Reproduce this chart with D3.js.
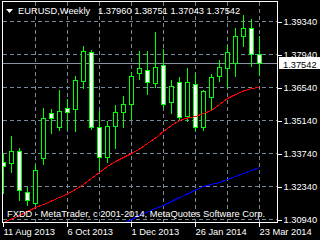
<!DOCTYPE html>
<html><head><meta charset="utf-8">
<script src="https://cdn.jsdelivr.net/npm/d3@7"></script>
<style>
html,body{margin:0;padding:0;background:#000;overflow:hidden}
svg{display:block}
text{font-family:"Liberation Sans",Arial,sans-serif;font-size:9.3px}
</style></head><body>
<svg id="c" width="320" height="240"></svg>
<script>
const dates = ["2013-08-11","2013-08-18","2013-08-25","2013-09-01","2013-09-08","2013-09-15","2013-09-22","2013-09-29",
  "2013-10-06","2013-10-13","2013-10-20","2013-10-27","2013-11-03","2013-11-10","2013-11-17","2013-11-24",
  "2013-12-01","2013-12-08","2013-12-15","2013-12-22","2013-12-29","2014-01-05","2014-01-12","2014-01-19",
  "2014-01-26","2014-02-02","2014-02-09","2014-02-16","2014-02-23","2014-03-02","2014-03-09","2014-03-16","2014-03-23"];
const opens  = [1.33358,1.33316,1.33825,1.32086,1.31619,1.33528,1.35437,1.34843,1.35649,1.35607,1.36795,1.38025,1.34843,1.33570,1.34885,1.35479,
  1.35819,1.37134,1.37261,1.36710,1.37473,1.35904,1.36752,1.35310,1.36667,1.34843,1.36116,1.37007,1.37346,1.37560,1.38704,1.39043,1.37960];
const highs  = [1.33782,1.34504,1.33994,1.32340,1.33273,1.35692,1.35649,1.36455,1.36073,1.37049,1.38322,1.38152,1.35564,1.35140,1.35819,1.36201,
  1.37219,1.38110,1.38110,1.38916,1.38195,1.36879,1.37007,1.37389,1.37176,1.36455,1.37134,1.37728,1.38364,1.39086,1.39637,1.39467,1.38751];
const lows   = [1.32043,1.32934,1.31746,1.31534,1.31576,1.33273,1.34588,1.34716,1.34758,1.34673,1.36498,1.34758,1.33019,1.33358,1.33952,1.34843,
  1.35182,1.36879,1.36243,1.36540,1.35692,1.35437,1.35140,1.35098,1.34716,1.34716,1.35564,1.36795,1.36540,1.37007,1.38279,1.37431,1.37043];
const closes = [1.33189,1.33825,1.32170,1.31746,1.33019,1.35225,1.35225,1.35522,1.35479,1.36837,1.38067,1.34843,1.33570,1.34885,1.35479,1.35819,
  1.37007,1.37346,1.36752,1.37389,1.35819,1.36582,1.35267,1.36752,1.34843,1.36370,1.36964,1.37389,1.38025,1.38704,1.39043,1.37940,1.37542];
const maRed  = [1.30813,1.30961,1.31110,1.31279,1.31449,1.31576,1.31725,1.31873,1.32022,1.32213,1.32425,1.32679,1.32934,1.33189,1.33401,1.33570,
  1.33740,1.33931,1.34164,1.34398,1.34673,1.34928,1.35140,1.35246,1.35310,1.35437,1.35564,1.35819,1.36073,1.36243,1.36392,1.36498,1.36540];
const maBlue = [null,null,null,null,null,null,null,null,null,null,null,null,null,null,null,1.30770,
  1.30940,1.31110,1.31258,1.31407,1.31534,1.31704,1.31873,1.32022,1.32192,1.32340,1.32425,1.32510,1.32637,1.32764,1.32891,1.33019,1.33146];
const priceTicks = [1.3934,1.3794,1.3654,1.3514,1.3374,1.3234,1.3094];
const dateTickIdx = [0,8,16,24,32];
const dateTickLabels = ["11 Aug 2013","6 Oct 2013","1 Dec 2013","26 Jan 2014","23 Mar 2014"];
const symbolTitle = "EURUSD,Weekly";
const footerText = "FXDD - MetaTrader, c 2001-2014, MetaQuotes Software Corp.";

const svg = d3.select("#c");
const last = dates.length - 1;
const x = d3.scaleLinear().domain([0, last]).range([3.5, 259.5]);
const y = d3.scaleLinear().domain([1.3094, 1.3934]).range([219.5, 21.5]);
const px = i => Math.round(x(i) - 0.5) + 0.5;
const py = v => Math.round(y(v) - 0.5) + 0.5;
const fmt = d3.format(".5f");
const FS = 9.3;

svg.append("rect").attr("width", 320).attr("height", 240).attr("fill", "#000");
svg.append("clipPath").attr("id", "pc").append("rect").attr("x", 3).attr("y", 2).attr("width", 274).attr("height", 220);

const grid = svg.append("g").attr("shape-rendering", "crispEdges").attr("stroke", "#778899").attr("stroke-dasharray", "4,3");
grid.selectAll("line.h").data(priceTicks).join("line").attr("class", "h")
  .attr("x1", 3).attr("x2", 277).attr("y1", d => py(d)).attr("y2", d => py(d));
grid.selectAll("line.v").data(d3.range(4, last + 1, 4)).join("line").attr("class", "v")
  .attr("x1", d => px(d)).attr("x2", d => px(d)).attr("y1", 2).attr("y2", 222);

// bid line
svg.append("line").attr("shape-rendering", "crispEdges").attr("stroke", "#8a96a4")
  .attr("x1", 3).attr("x2", 277).attr("y1", py(closes[last])).attr("y2", py(closes[last]));

const plot = svg.append("g").attr("clip-path", "url(#pc)").attr("shape-rendering", "crispEdges");
const idx = d3.range(dates.length);
plot.selectAll("line.w").data(idx).join("line").attr("class", "w")
  .attr("x1", i => px(i)).attr("x2", i => px(i))
  .attr("y1", i => py(highs[i])).attr("y2", i => py(lows[i]))
  .attr("stroke", "#00ff00");
plot.selectAll("rect.b").data(idx).join("rect").attr("class", "b")
  .attr("x", i => px(i) - 2).attr("width", 4)
  .attr("y", i => py(Math.max(opens[i], closes[i])))
  .attr("height", i => Math.max(1, py(Math.min(opens[i], closes[i])) - py(Math.max(opens[i], closes[i]))))
  .attr("fill", i => closes[i] < opens[i] ? "#fff" : "#000")
  .attr("stroke", "#00ff00");

const line = d3.line().defined(d => d != null).x((d, i) => x(i)).y(d => y(d));
plot.append("path").datum(maRed).attr("d", line).attr("fill", "none").attr("stroke", "#ff0000");
plot.append("path").datum(maBlue).attr("d", line).attr("fill", "none").attr("stroke", "#0000ff");

// frame
svg.append("rect").attr("x", 2.5).attr("y", 1.5).attr("width", 275).attr("height", 221)
  .attr("fill", "none").attr("stroke", "#fff").attr("shape-rendering", "crispEdges");

// price axis
const ay = d3.axisRight(y).tickValues(priceTicks).tickFormat(fmt).tickSize(4).tickPadding(2);
const gy = svg.append("g").attr("transform", "translate(277.5,0.5)").call(ay);
gy.select(".domain").remove();
gy.selectAll(".tick line").attr("stroke", "#fff").attr("shape-rendering", "crispEdges");
gy.selectAll(".tick text").attr("fill", "#fff").attr("dy", "0.26em")
  .attr("font-family", "Liberation Sans, Arial, sans-serif").attr("font-size", FS);

// last price box
const lp = py(closes[last]);
svg.append("rect").attr("x", 279).attr("y", lp - 6.5).attr("width", 41).attr("height", 12).attr("fill", "#fff");
svg.append("text").attr("x", 283).attr("y", lp + 1).attr("dy", "0.35em").attr("fill", "#000").text(fmt(closes[last]));

// time axis
const ax = d3.axisBottom(x).tickValues(dateTickIdx).tickFormat((d, k) => dateTickLabels[k]).tickSize(4).tickPadding(2);
const gx = svg.append("g").attr("transform", "translate(-0.5,222.5)").call(ax);
gx.select(".domain").remove();
gx.selectAll(".tick line").attr("stroke", "#fff").attr("shape-rendering", "crispEdges");
gx.selectAll(".tick text").attr("fill", "#fff").attr("text-anchor", "start")
  .attr("font-family", "Liberation Sans, Arial, sans-serif").attr("font-size", FS);

// header
svg.append("path").attr("d", "M6,9L13,9L9.5,13Z").attr("fill", "#fff");
svg.append("text").attr("x", 18).attr("y", 14).attr("fill", "#fff").text(symbolTitle);
svg.append("text").attr("x", 98).attr("y", 14).attr("fill", "#fff")
  .text([opens[last], highs[last], lows[last], closes[last]].map(fmt).join(" "));

// footer
svg.append("text").attr("x", 7).attr("y", 217).attr("fill", "#fff").text(footerText);
</script>
</body></html>
